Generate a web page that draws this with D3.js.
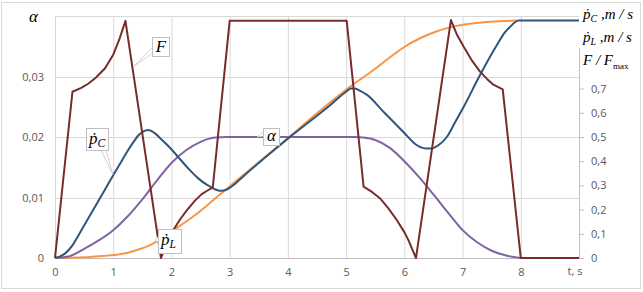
<!DOCTYPE html>
<html>
<head>
<meta charset="utf-8">
<script src="https://cdn.jsdelivr.net/npm/d3@7"></script>
<style>
  html, body { margin: 0; padding: 0; background: #fff; }
  svg { display: block; }
  .tick text { font-family: "Open Sans", sans-serif; font-size: 11px; fill: #595959; }
  .lbl { font-family: "Liberation Serif", "DejaVu Serif", serif; font-style: italic; fill: #000; }
</style>
</head>
<body>
<div id="chart"></div>
<script>
// ---- data (t in s) ----
const xTicks = [0, 1, 2, 3, 4, 5, 6, 7, 8];
const leftTicks = [0, 0.01, 0.02, 0.03];
const rightTicks = [0, 0.1, 0.2, 0.3, 0.4, 0.5, 0.6, 0.7];

// alpha (left axis)
const alphaPts = [
  [0, 0], [0.25, 0.0003], [0.5, 0.0015], [0.75, 0.0029], [1.0, 0.0046], [1.25, 0.0069],
  [1.5, 0.0097], [1.75, 0.0128], [2.0, 0.0157], [2.25, 0.0178], [2.5, 0.0192], [2.75, 0.0199],
  [2.95, 0.02], [5.15, 0.02], [5.3, 0.0199], [5.5, 0.0195], [5.75, 0.0182], [6.0, 0.016],
  [6.25, 0.0134], [6.5, 0.0105], [6.75, 0.0075], [7.0, 0.0046], [7.25, 0.0026], [7.5, 0.0012],
  [7.75, 0.0004], [8.0, 0]
];

// p_L dot (right axis)
const pLPts = [
  [0, 0], [0.5, 0.003], [1.0, 0.012], [1.25, 0.022], [1.46, 0.037], [1.6, 0.05], [1.72, 0.065],
  [1.85, 0.085], [2.03, 0.114], [2.17, 0.137], [2.32, 0.162], [2.47, 0.189], [2.61, 0.217],
  [2.75, 0.246], [2.89, 0.274], [3.0, 0.296], [3.5, 0.396], [4.0, 0.496], [4.5, 0.598],
  [5.07, 0.708], [5.47, 0.777], [5.8, 0.838], [6.0, 0.872], [6.27, 0.908], [6.56, 0.937],
  [6.84, 0.956], [7.1, 0.967], [7.42, 0.975], [7.7, 0.979], [7.93, 0.981]
];

// p_C dot (right axis)
const pCPts = [
  [0, 0], [0.17, 0.018], [0.3, 0.052], [0.4, 0.092], [0.55, 0.155], [0.69, 0.213], [0.85, 0.279],
  [1.0, 0.342], [1.13, 0.395], [1.26, 0.447], [1.35, 0.48], [1.43, 0.506], [1.52, 0.523],
  [1.6, 0.529], [1.7, 0.518], [1.83, 0.49], [1.95, 0.462], [2.06, 0.433], [2.15, 0.408],
  [2.3, 0.367], [2.46, 0.329], [2.6, 0.304], [2.69, 0.292], [2.76, 0.283], [2.83, 0.278],
  [2.9, 0.279], [2.98, 0.287], [3.1, 0.308], [3.2, 0.33], [4.01, 0.495], [4.73, 0.632],
  [5.01, 0.689], [5.08, 0.7], [5.15, 0.7], [5.25, 0.69], [5.36, 0.674], [5.64, 0.605],
  [5.98, 0.522], [6.21, 0.467], [6.3, 0.456], [6.39, 0.452], [6.47, 0.453], [6.59, 0.467],
  [6.73, 0.5], [6.87, 0.56], [7.02, 0.625], [7.3, 0.756], [7.59, 0.88], [7.72, 0.93],
  [7.82, 0.956], [7.9, 0.974], [7.96, 0.981], [9.0, 0.981]
];

// F / Fmax (right axis)
const fPts = [
  [0, 0], [0.3, 0.687], [0.45, 0.703], [0.57, 0.72], [0.7, 0.745], [0.86, 0.784], [1.0, 0.84],
  [1.1, 0.9], [1.21, 0.98], [1.82, 0], [1.92, 0.06], [2.03, 0.115], [2.15, 0.16], [2.26, 0.196],
  [2.4, 0.236], [2.52, 0.264], [2.62, 0.279], [2.71, 0.292], [3.0, 0.98], [5.01, 0.98],
  [5.3, 0.295], [5.45, 0.272], [5.58, 0.247], [5.72, 0.207], [5.87, 0.157], [6.0, 0.107],
  [6.07, 0.074], [6.2, 0], [6.8, 0.983], [6.9, 0.925], [7.02, 0.873], [7.15, 0.82],
  [7.3, 0.77], [7.42, 0.74], [7.53, 0.716], [7.69, 0.697], [8.0, 0], [9.0, 0]
];

const W = 643, H = 292;
const svg = d3.select("#chart").append("svg").attr("width", W).attr("height", H);

svg.append("rect").attr("x", 1.5).attr("y", 2.5).attr("width", 639).attr("height", 286)
  .attr("fill", "#fff").attr("stroke", "#d9d9d9");

const x = d3.scaleLinear().domain([0, 9]).range([55, 579]);
const yL = d3.scaleLinear().domain([0, 0.04]).range([258, 16]);
const yR = d3.scaleLinear().domain([0, 1]).range([258, 16]);

const loc = d3.formatLocale({ decimal: ",", thousands: " ", grouping: [3], currency: ["", ""] });
const fmtL = d => d === 0 ? "0" : loc.format(".2f")(d);
const fmtR = d => d === 0 ? "0" : loc.format(".1f")(d);

// grid
const grid = svg.append("g");
grid.selectAll("line.v").data(xTicks).join("line")
  .attr("x1", d => x(d) + 0.5).attr("x2", d => x(d) + 0.5).attr("y1", yL(0.04)).attr("y2", yL(0))
  .attr("stroke", "#d9d9d9");
grid.selectAll("line.h").data([0.01, 0.02, 0.03, 0.04]).join("line")
  .attr("x1", x(0)).attr("x2", x(9)).attr("y1", d => Math.round(yL(d)) + 0.5).attr("y2", d => Math.round(yL(d)) + 0.5)
  .attr("stroke", "#d9d9d9");

// axes
const gx = svg.append("g").attr("transform", `translate(0,${yL(0)})`)
  .call(d3.axisBottom(x).tickValues(xTicks).tickSize(0).tickPadding(10).tickFormat(d3.format("d")));
gx.select(".domain").attr("stroke", "#bfbfbf");

const gl = svg.append("g").attr("transform", `translate(${x(0)},0)`)
  .call(d3.axisLeft(yL).tickValues(leftTicks).tickSize(0).tickPadding(11).tickFormat(fmtL));
gl.select(".domain").remove();

const gr = svg.append("g").attr("transform", `translate(${x(9)},0)`)
  .call(d3.axisRight(yR).tickValues(rightTicks).tickSize(5).tickPadding(7).tickFormat(fmtR).tickSizeOuter(0));
gr.select(".domain").remove();
gr.selectAll(".tick line").attr("stroke", "#bfbfbf");
gr.append("line").attr("x1", 0.5).attr("x2", 0.5).attr("y1", yR(0)).attr("y2", 48).attr("stroke", "#bfbfbf");

// series
const lineR = d3.line().x(d => x(d[0])).y(d => yR(d[1]));
const lineL = d3.line().x(d => x(d[0])).y(d => yL(d[1])).curve(d3.curveMonotoneX);
const smoothR = d3.line().x(d => x(d[0])).y(d => yR(d[1])).curve(d3.curveMonotoneX);

svg.append("path").datum(pLPts).attr("d", smoothR).attr("fill", "none").attr("stroke", "#f79646").attr("stroke-width", 2);
svg.append("path").datum(alphaPts).attr("d", lineL).attr("fill", "none").attr("stroke", "#8064a2").attr("stroke-width", 2);
svg.append("path").datum(pCPts).attr("d", smoothR).attr("fill", "none").attr("stroke", "#2f5679").attr("stroke-width", 2);
svg.append("path").datum(fPts).attr("d", lineR).attr("fill", "none").attr("stroke", "#772c2a").attr("stroke-width", 2)
  .attr("stroke-linejoin", "round");

// callouts
function callout(box, tail, build) {
  const g = svg.append("g");
  g.append("polygon").attr("points", tail.map(p => p.join(",")).join(" "))
    .attr("fill", "#fff").attr("stroke", "#c8c8c8").attr("stroke-width", 0.8);
  g.append("rect").attr("x", box[0] + 0.5).attr("y", box[1] + 0.5).attr("width", box[2]).attr("height", box[3])
    .attr("fill", "#fff").attr("stroke", "#bfbfbf");
  build(g);
}
function pdot(g, xx, yy, sub, size) {
  const t = g.append("text").attr("class", "lbl").attr("x", xx).attr("y", yy).attr("font-size", size);
  t.append("tspan").text("ṗ");
  t.append("tspan").attr("font-size", size * 0.68).attr("dy", 3).text(sub);
  return t;
}

callout([152, 37, 17, 19], [[153, 47], [153, 53], [133, 67]], g =>
  g.append("text").attr("class", "lbl").attr("x", 161).attr("y", 52).attr("text-anchor", "middle").attr("font-size", 17).text("F"));
callout([86, 128, 22, 22], [[101, 150], [106, 150], [113, 175]], g => pdot(g, 89, 144, "C", 17));
callout([263, 128, 16, 17], [[264, 131], [264, 136], [257, 137]], g =>
  g.append("text").attr("class", "lbl").attr("x", 271.5).attr("y", 141).attr("text-anchor", "middle").attr("font-size", 17).text("α"));
callout([158, 229, 23, 24], [[159, 236], [159, 243], [155, 240]], g => pdot(g, 161, 245, "L", 17));

// axis titles
svg.append("text").attr("class", "lbl").attr("x", 29).attr("y", 22).attr("font-size", 17).text("α");
svg.append("text").attr("x", 575).attr("y", 275).attr("text-anchor", "middle")
  .attr("font-family", "Open Sans, sans-serif").attr("font-size", 11).attr("fill", "#595959").text("t, s");

function rightTitle(yy, sub) {
  const t = svg.append("text").attr("class", "lbl").attr("x", 583).attr("y", yy).attr("font-size", 15);
  t.append("tspan").text("ṗ");
  t.append("tspan").attr("font-size", 10).attr("dy", 3).text(sub);
  t.append("tspan").attr("dy", -3).text(" ,m / s");
}
rightTitle(19, "C");
rightTitle(42, "L");
const ft = svg.append("text").attr("class", "lbl").attr("x", 583).attr("y", 65).attr("font-size", 15);
ft.append("tspan").text("F / F");
ft.append("tspan").attr("font-size", 9).attr("font-style", "normal").attr("dy", 4).text("max");
</script>
</body>
</html>
